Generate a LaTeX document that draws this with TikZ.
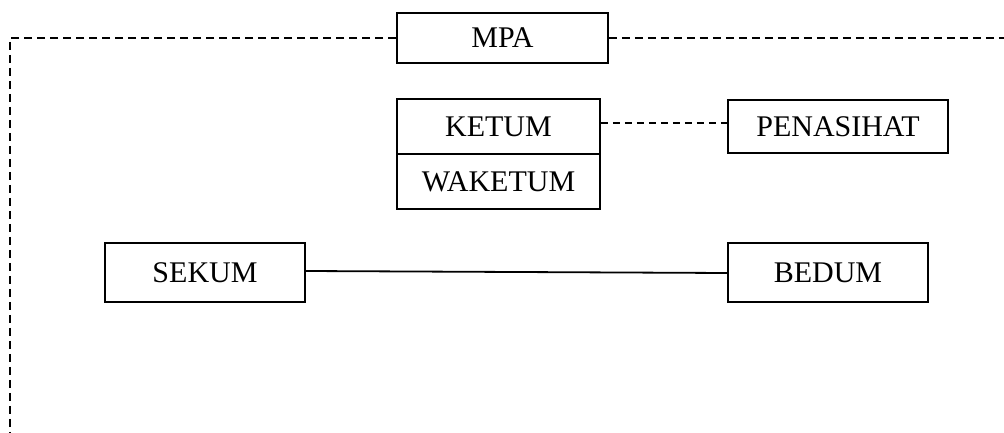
\documentclass[tikz,border=0pt]{standalone}
\usepackage{fontspec}
\setmainfont{Liberation Serif}
\begin{document}
\begin{tikzpicture}[x=1pt,y=-1pt,
  box/.style={draw,line width=1.8pt,inner sep=0pt,font=\fontsize{30}{36}\selectfont},
  frame/.style={line width=1.6pt,dash pattern=on 8pt off 5pt},
  dline/.style={line width=1.4pt,dash pattern=on 7pt off 5pt},
  sline/.style={line width=1.8pt}]
\useasboundingbox (0,0) rectangle (1004,433);
\node[box,minimum width=211pt,minimum height=50pt] (MPA) at (502.5,38) {MPA};
\node[box,minimum width=203pt,minimum height=55pt] (KETUM) at (498.5,126.5) {KETUM};
\node[box,minimum width=203pt,minimum height=55pt] (WAKETUM) at (498.5,181.5) {WAKETUM};
\node[box,minimum width=220pt,minimum height=53pt] (PEN) at (838,126.5) {PENASIHAT};
\node[box,minimum width=200pt,minimum height=59pt] (SEKUM) at (205,272.5) {SEKUM};
\node[box,minimum width=200pt,minimum height=59pt] (BEDUM) at (828,272.5) {BEDUM};
\coordinate (fl) at (10,38);
\coordinate (fb) at (10,433);
\coordinate (fr) at (1004,38);
\draw[frame] (MPA.west) -- (fl) -- (fb);
\draw[frame] (MPA.east) -- (fr);
\draw[dline] ([yshift=3.5pt]KETUM.east) -- ([yshift=3.5pt]PEN.west);
\draw[sline] ([yshift=1.5pt]SEKUM.east) -- ([yshift=-0.5pt]BEDUM.west);
\end{tikzpicture}
\end{document}
